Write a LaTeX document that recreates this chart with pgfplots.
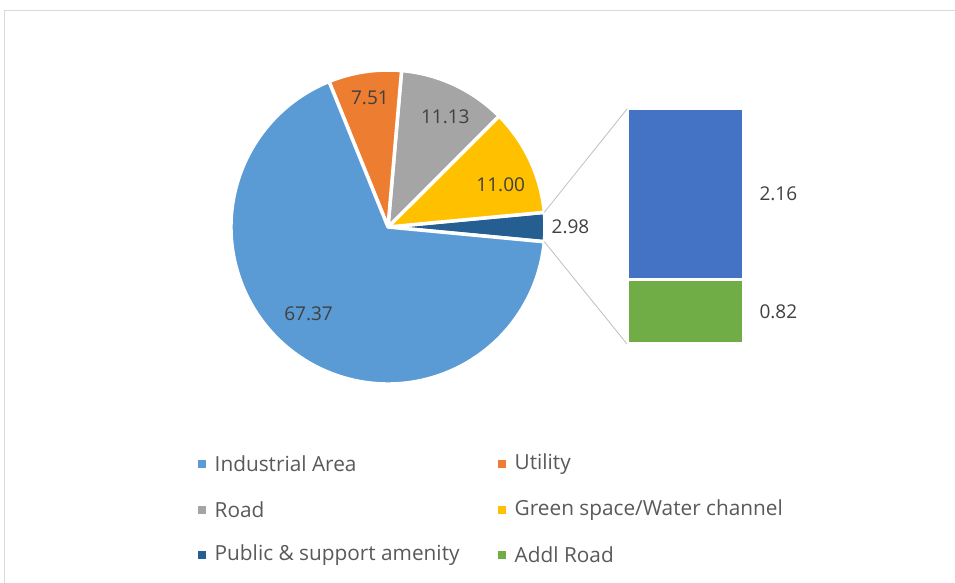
\documentclass[border=0pt]{standalone}
\usepackage{fontspec}
\setmainfont{Open Sans}
\usepackage{pgfplots}
\usepackage{pgfplotstable}
\pgfplotsset{compat=1.18}

\definecolor{industrial}{HTML}{5B9BD5}
\definecolor{utility}{HTML}{ED7D31}
\definecolor{road}{HTML}{A5A5A5}
\definecolor{greenspace}{HTML}{FFC000}
\definecolor{other}{HTML}{255E91}
\definecolor{public}{HTML}{4472C4}
\definecolor{addl}{HTML}{70AD47}
\definecolor{lbl}{HTML}{404040}
\definecolor{legtext}{HTML}{595959}
\definecolor{frame}{HTML}{D9D9D9}

% pie, counterclockwise from the "other" slice centred at 3 o'clock
\pgfplotstableread{
share col
2.98  other
11.00 greenspace
11.13 road
7.51  utility
67.37 industrial
}\pietable
\pgfplotstablecreatecol[create col/expr accum={\pgfmathaccuma + \thisrow{share}}{0}]{cum}\pietable

% the "other" slice split out
\pgfplotstableread{
x share
0 0.82
}\addltable
\pgfplotstableread{
x share
0 2.16
}\publictable

\begin{document}
\begin{tikzpicture}[font=\fontsize{19}{22}\selectfont]
\path[use as bounding box] (0,0) rectangle (955pt,583pt);
\draw[frame, line width=1pt] (4pt,0) -- (4pt,572pt) -- (955pt,572pt);

\begin{axis}[
    at={(388pt,356pt)}, anchor=center,
    scale only axis, width=314pt, height=314pt,
    xmin=-1, xmax=1, ymin=-1, ymax=1,
    hide axis, clip=false]
\pgfplotsinvokeforeach{0,...,4}{
    \pgfplotstablegetelem{#1}{share}\of\pietable \let\share\pgfplotsretval
    \pgfplotstablegetelem{#1}{cum}\of\pietable \let\cum\pgfplotsretval
    \pgfplotstablegetelem{#1}{col}\of\pietable \let\col\pgfplotsretval
    \pgfmathsetmacro\aa{-5.364+3.6*(\cum-\share)}
    \pgfmathsetmacro\bb{-5.364+3.6*\cum}
    \edef\temp{\noexpand\fill[\col, draw=white, line width=3.5pt, line join=round]
        (axis cs:0,0) -- (axis cs:{cos(\aa)},{sin(\aa)})
        arc[start angle=\aa, end angle=\bb, radius=157pt] -- cycle;}
    \temp
}
\coordinate (ptop) at (axis cs:{cos(5.364)},{sin(5.364)});
\coordinate (pbot) at (axis cs:{cos(-5.364)},{sin(-5.364)});
\node[lbl] at (axis cs:-0.506,-0.551) {67.37};
\node[lbl] at (axis cs:-0.115,0.82) {7.51};
\node[lbl] at (axis cs:0.365,0.70) {11.13};
\node[lbl] at (axis cs:0.718,0.269) {11.00};
\node[lbl, anchor=west] at (axis cs:1.02,0) {2.98};
\end{axis}

\begin{axis}[
    at={(627pt,239pt)}, anchor=south west,
    scale only axis, width=116pt, height=235pt,
    xmin=-0.5, xmax=0.5, ymin=0, ymax=2.98,
    hide axis, clip=false,
    ybar stacked, bar width=116pt]
\addplot[fill=addl, draw=white, line width=3pt] table[x=x, y=share] {\addltable};
\addplot[fill=public, draw=white, line width=3pt] table[x=x, y=share] {\publictable};
\coordinate (btop) at (axis cs:-0.5,2.98);
\coordinate (bbot) at (axis cs:-0.5,0);
\node[lbl, anchor=west] at (axis cs:0.5,1.90) [xshift=13pt] {2.16};
\node[lbl, anchor=west] at (axis cs:0.5,0.41) [xshift=13pt] {0.82};
\end{axis}

\draw[black!25, line width=0.8pt] (ptop) -- (btop);
\draw[black!25, line width=0.8pt] (pbot) -- (bbot);

% legend
\begin{scope}[font=\fontsize{20.8}{24}\selectfont]
\foreach \c/\t/\x/\y in {industrial/Industrial Area/201.5/119, utility/Utility/501.5/119,
    road/Road/201.5/73, greenspace/Green space\slash Water channel/501.5/73,
    other/Public \& support amenity/201.5/28, addl/Addl Road/501.5/28}{
  \fill[\c] (\x pt-4pt,\y pt-4pt) rectangle ++(8pt,8pt);
  \node[legtext, anchor=west, inner sep=0pt] at (\x pt+13pt,\y pt) {\t};
}
\end{scope}
\end{tikzpicture}
\end{document}
